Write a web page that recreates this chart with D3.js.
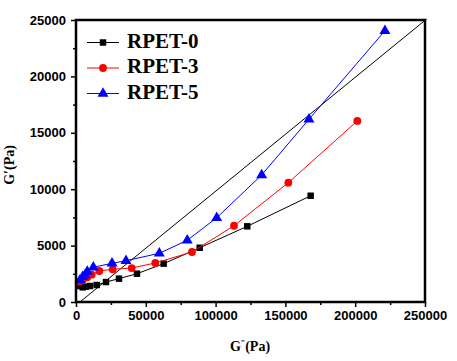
<!DOCTYPE html>
<html>
<head>
<meta charset="utf-8">
<script src="https://cdn.jsdelivr.net/npm/d3@7"></script>
<style>
  body { margin: 0; background: #fff; }
  .tick text { font-family: "Liberation Sans", Arial, sans-serif; font-weight: bold; font-size: 13px; }
</style>
</head>
<body>
<div id="chart"></div>
<script>
// G'' (Pa) vs G' (Pa)
var rpet0X = [2150, 4800, 7160, 10030, 14830, 21490, 30800, 43700, 62800, 88600, 122700, 168100];
var rpet0Y = [1420, 1300, 1360, 1420, 1510, 1770, 2070, 2510, 3400, 4810, 6710, 9420];
var rpet3X = [2150, 4800, 8100, 11250, 16700, 26300, 39900, 56800, 83100, 113200, 152100, 201500];
var rpet3Y = [1800, 1950, 2190, 2420, 2750, 2900, 3010, 3460, 4430, 6760, 10580, 16050];
var rpet5X = [2870, 4800, 6450, 8100, 12400, 25800, 35800, 59700, 79700, 100800, 133000, 166900, 221300];
var rpet5Y = [1950, 2240, 2390, 2690, 3080, 3430, 3660, 4320, 5470, 7470, 11260, 16200, 24050];
var refLineX = [2800, 251200];
var refLineY = [0, 25090];
var xTicks = [0, 50000, 100000, 150000, 200000, 250000];
var yTicks = [0, 5000, 10000, 15000, 20000, 25000];
var seriesNames = ["RPET-0", "RPET-3", "RPET-5"];
var seriesColors = ["#000000", "#ff0000", "#0000ff"];

var width = 457, height = 361;
var plotL = 76, plotR = 425, plotT = 20, plotB = 302;

var svg = d3.select('#chart').append('svg').attr('width', width).attr('height', height);

var x = d3.scaleLinear().domain([0, 250000]).range([plotL, plotR]);
var y = d3.scaleLinear().domain([0, 25000]).range([plotB, plotT]);

var series = [
    { name: seriesNames[0], xs: rpet0X, ys: rpet0Y, color: seriesColors[0], shape: d3.symbolSquare, size: 42 },
    { name: seriesNames[1], xs: rpet3X, ys: rpet3Y, color: seriesColors[1], shape: d3.symbolCircle, size: 48 },
    { name: seriesNames[2], xs: rpet5X, ys: rpet5Y, color: seriesColors[2], shape: d3.symbolTriangle, size: 52 }
];

// reference line
svg.append('line')
    .attr('x1', x(refLineX[0])).attr('y1', y(refLineY[0]))
    .attr('x2', x(refLineX[1])).attr('y2', y(refLineY[1]))
    .attr('stroke', '#000').attr('stroke-width', 1);

var line = d3.line().x(function(d) { return x(d[0]); }).y(function(d) { return y(d[1]); });

series.forEach(function(s) {
    var pts = s.xs.map(function(v, i) { return [v, s.ys[i]]; });
    svg.append('path').datum(pts)
        .attr('d', line)
        .attr('fill', 'none')
        .attr('stroke', s.color)
        .attr('stroke-width', 1);
    svg.selectAll(null).data(pts).enter().append('path')
        .attr('d', d3.symbol().type(s.shape).size(s.size))
        .attr('transform', function(d) { return 'translate(' + x(d[0]) + ',' + y(d[1]) + ')'; })
        .attr('fill', s.color);
});

// axes
svg.append('g').attr('transform', 'translate(0,' + plotB + ')')
    .call(d3.axisBottom(x).tickValues(xTicks).tickSize(5).tickPadding(4).tickFormat(d3.format('d')));
svg.append('g').attr('transform', 'translate(' + plotL + ',0)')
    .call(d3.axisLeft(y).tickValues(yTicks).tickSize(5).tickPadding(5).tickFormat(d3.format('d')));

// minor ticks
svg.append('g').attr('transform', 'translate(0,' + plotB + ')')
    .call(d3.axisBottom(x).tickValues(d3.range(25000, 250000, 50000)).tickSize(3).tickFormat(''));
svg.append('g').attr('transform', 'translate(' + plotL + ',0)')
    .call(d3.axisLeft(y).tickValues(d3.range(2500, 25000, 5000)).tickSize(3).tickFormat(''));

svg.selectAll('.domain').remove();
svg.selectAll('.tick line').attr('stroke', '#000').attr('stroke-width', 1.5);

// frame
svg.append('rect')
    .attr('x', plotL).attr('y', plotT)
    .attr('width', plotR - plotL).attr('height', plotB - plotT)
    .attr('fill', 'none').attr('stroke', '#000').attr('stroke-width', 2.5);

// axis titles
svg.append('text')
    .attr('x', 250).attr('y', 351)
    .attr('text-anchor', 'middle')
    .attr('font-family', 'Liberation Serif, Times New Roman, serif')
    .attr('font-weight', 'bold').attr('font-size', 14)
    .html('G<tspan font-size="8" dy="-5">″</tspan><tspan dy="5">(Pa)</tspan>');

svg.append('text')
    .attr('transform', 'translate(14,165) rotate(-90)')
    .attr('text-anchor', 'middle')
    .attr('font-family', 'Liberation Serif, Times New Roman, serif')
    .attr('font-weight', 'bold').attr('font-size', 14)
    .text('G′(Pa)');

// legend
var legend = svg.append('g');
series.forEach(function(s, i) {
    var ly = 42.5 + i * 25.5;
    legend.append('line')
        .attr('x1', 87).attr('x2', 119).attr('y1', ly).attr('y2', ly)
        .attr('stroke', s.color).attr('stroke-width', 1);
    legend.append('path')
        .attr('d', d3.symbol().type(s.shape).size(s.size))
        .attr('transform', 'translate(103,' + ly + ')')
        .attr('fill', s.color);
    legend.append('text')
        .attr('x', 127).attr('y', ly + 5)
        .attr('font-family', 'Liberation Serif, Times New Roman, serif')
        .attr('font-weight', 'bold').attr('font-size', 21)
        .text(s.name);
});
</script>
</body>
</html>
